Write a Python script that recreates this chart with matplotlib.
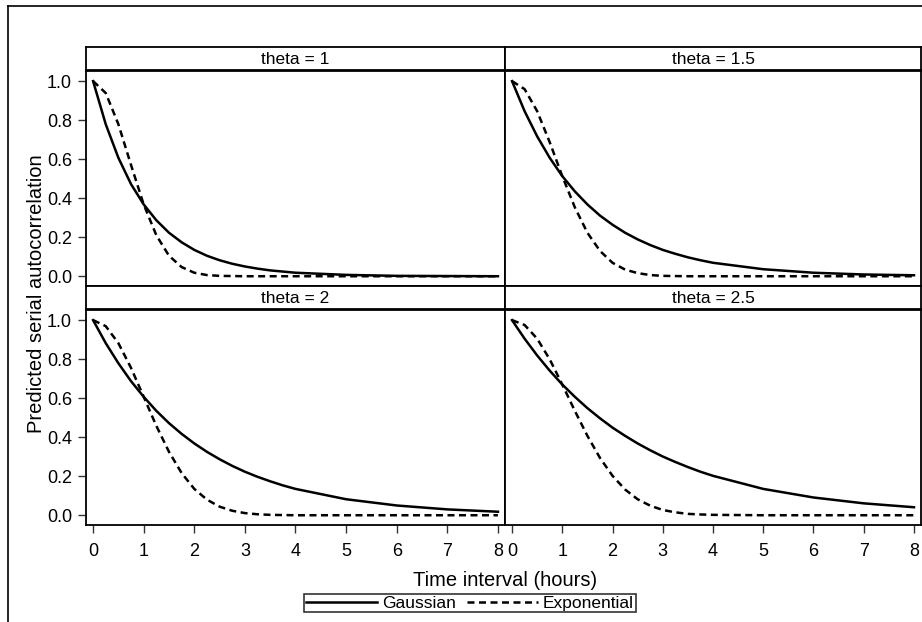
import matplotlib
matplotlib.use('Agg')
import matplotlib.pyplot as plt
from matplotlib.lines import Line2D

plt.rcParams['font.family'] = ['Liberation Sans', 'DejaVu Sans']

# Time interval (hours)
t_hours = [0, 0.25, 0.5, 0.75, 1, 1.25, 1.5, 1.75, 2, 2.25, 2.5, 2.75,
           3, 3.25, 3.5, 3.75, 4, 5, 6, 7, 8]

panel_titles = ['theta = 1', 'theta = 1.5', 'theta = 2', 'theta = 2.5']

# Solid curves (legend: Gaussian)
gauss_1 = [1, .779, .607, .472, .368, .287, .223, .174, .135, .105, .082, .064,
           .050, .039, .030, .024, .018, .007, .002, .001, .000]
gauss_15 = [1, .846, .717, .607, .513, .435, .368, .311, .264, .223, .189, .160,
            .135, .115, .097, .082, .069, .036, .018, .009, .005]
gauss_2 = [1, .882, .779, .687, .607, .535, .472, .417, .368, .325, .287, .253,
           .223, .197, .174, .153, .135, .082, .050, .030, .018]
gauss_25 = [1, .905, .819, .741, .670, .607, .549, .497, .449, .407, .368, .333,
            .301, .273, .247, .223, .202, .135, .091, .061, .041]

# Dashed curves (legend: Exponential)
expo_1 = [1, .939, .779, .570, .368, .210, .105, .047, .018, .006, .002, .001,
          0, 0, 0, 0, 0, 0, 0, 0, 0]
expo_15 = [1, .959, .846, .687, .513, .353, .223, .130, .069, .034, .016, .006,
           .002, .001, 0, 0, 0, 0, 0, 0, 0]
expo_2 = [1, .969, .882, .755, .607, .458, .325, .216, .135, .080, .044, .023,
          .011, .005, .002, .001, 0, 0, 0, 0, 0]
expo_25 = [1, .975, .905, .799, .670, .535, .407, .294, .202, .132, .082, .049,
           .027, .015, .007, .004, .002, 0, 0, 0, 0]

gauss_series = [gauss_1, gauss_15, gauss_2, gauss_25]
expo_series = [expo_1, expo_15, expo_2, expo_25]

DASH = (0, (2.8, 1.8))

W, H = 922, 622
fig = plt.figure(figsize=(W / 100, H / 100), dpi=100)

# outer frame (runs off right and bottom edges)
fig.add_artist(Line2D([8 / W, 8 / W], [0, 1 - 6 / H], color='black', lw=1.2))
fig.add_artist(Line2D([8 / W, 1], [1 - 6 / H, 1 - 6 / H], color='black', lw=1.2))

left_px, mid_px, right_px = 86, 505, 921
rows = [(47, 70, 286), (286, 309, 525)]  # strip top, panel top, panel bottom
cols = [(left_px, mid_px), (mid_px, right_px)]

for r, (st, pt, pb) in enumerate(rows):
    for c, (x0, x1) in enumerate(cols):
        idx = r * 2 + c
        ax = fig.add_axes([x0 / W, 1 - pb / H, (x1 - x0) / W, (pb - pt) / H])
        ax.plot(t_hours, gauss_series[idx], color='black', lw=1.8)
        ax.plot(t_hours, expo_series[idx], color='black', lw=1.8, linestyle=DASH)
        ax.set_xlim(-0.14, 8.14)
        ax.set_ylim(-0.05, 1.057)
        ax.set_xticks(range(0, 9))
        ax.set_yticks([0, 0.2, 0.4, 0.6, 0.8, 1.0])
        ax.set_yticklabels(['0.0', '0.2', '0.4', '0.6', '0.8', '1.0'])
        ax.tick_params(direction='out', length=6, width=1, labelsize=13,
                       colors='#333333', labelcolor='black')
        ax.tick_params(axis='x', pad=7)
        ax.tick_params(axis='y', pad=4)
        if r == 0:
            ax.tick_params(axis='x', bottom=False, labelbottom=False)
        if c == 1:
            ax.tick_params(axis='y', left=False, labelleft=False)
        for sp in ax.spines.values():
            sp.set_linewidth(1.3)
        # strip
        sax = fig.add_axes([x0 / W, 1 - pt / H, (x1 - x0) / W, (pt - st) / H])
        sax.set_xticks([])
        sax.set_yticks([])
        for sp in sax.spines.values():
            sp.set_linewidth(1.3)
        sax.spines['bottom'].set_linewidth(2)
        sax.text(0.5, 0.45, panel_titles[idx], ha='center', va='center',
                 fontsize=12.5)

fig.text(37 / W, 1 - 294 / H, 'Predicted serial autocorrelation', rotation=90,
         ha='center', va='center', fontsize=14.5)
fig.text(505 / W, 1 - 580 / H, 'Time interval (hours)', ha='center',
         va='center', fontsize=14.5)

handles = [Line2D([], [], color='black', lw=1.8),
           Line2D([], [], color='black', lw=1.8, linestyle=DASH)]
leg = fig.legend(handles, ['Gaussian', 'Exponential'], loc='center',
                 bbox_to_anchor=(470 / W, 1 - 603 / H), ncol=2, frameon=True,
                 fancybox=False, edgecolor='black', fontsize=12.5,
                 handlelength=4.1, handletextpad=0.3, columnspacing=0.6,
                 borderpad=0.1, borderaxespad=0)
leg.get_frame().set_linewidth(1.2)

fig.savefig('out.png', dpi=100)
